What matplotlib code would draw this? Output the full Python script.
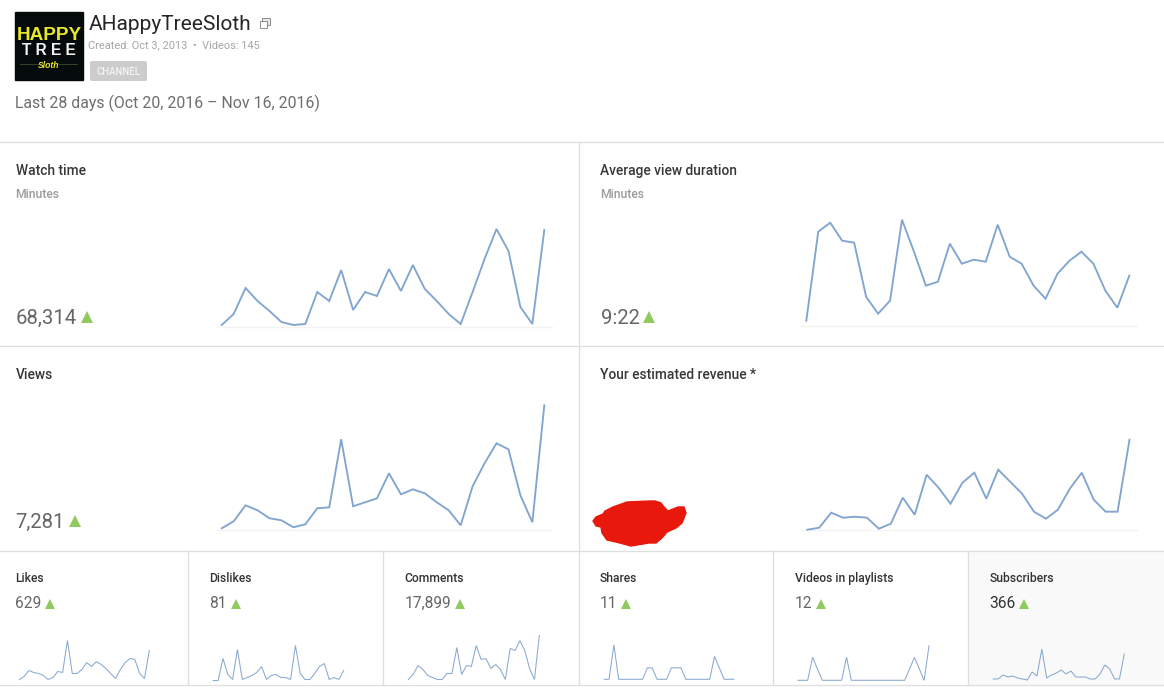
import matplotlib
matplotlib.use("Agg")
import matplotlib.pyplot as plt
from matplotlib.patches import FancyBboxPatch, Polygon, Rectangle

W, H = 1164, 695
plt.rcParams["font.family"] = ["Roboto", "DejaVu Sans"]

# heights of the big sparklines
watch_time = [1, 12, 38, 25, 15, 4, 1, 2, 34, 25, 56, 16, 34, 30, 57, 35, 61, 37, 25, 12, 2, 34, 67, 97, 75, 19, 2, 96]
avg_duration = [5, 94, 103, 85, 83, 29, 12, 25, 106, 74, 40, 44, 82, 62, 66, 64, 101, 69, 62, 40, 27, 52, 65, 74, 62, 35, 18, 50]
views = [1, 8, 24, 19, 11, 9, 2, 5, 21, 22, 90, 23, 27, 31, 56, 35, 40, 36, 27, 19, 4, 43, 66, 86, 80, 34, 7, 124]
revenue = [0, 2, 17, 12, 13, 12, 1, 6, 32, 15, 55, 42, 26, 47, 57, 31, 60, 48, 36, 18, 11, 20, 41, 57, 30, 18, 18, 90]

# small sparklines
likes = [1, 4, 10, 8, 7, 5, 1, 3, 9, 8, 40, 7, 7, 11, 18, 14, 19, 16, 12, 7, 2, 11, 18, 22, 21, 7, 2, 30]
dislikes = [0, 0, 22, 6, 1, 31, 1, 3, 5, 8, 14, 1, 5, 6, 3, 3, 1, 35, 7, 1, 1, 7, 14, 17, 1, 3, 1, 10]
comments = [1, 6, 15, 11, 5, 3, 1, 1, 7, 7, 33, 6, 15, 14, 35, 21, 22, 12, 16, 11, 1, 32, 30, 40, 30, 12, 1, 45]
shares = [0, 0, 3, 0, 0, 0, 0, 0, 0, 1, 1, 0, 0, 0, 1, 1, 1, 0, 0, 0, 0, 0, 0, 2, 1, 0, 0, 0]
playlists = [0, 0, 0, 2, 1, 0, 0, 0, 0, 0, 2, 0, 0, 0, 0, 0, 0, 0, 0, 0, 0, 0, 0, 1, 2, 1, 0, 3]
subscribers = [1, 1, 5, 3, 4, 2, 1, 0, 8, 4, 31, 2, 5, 7, 10, 6, 9, 3, 3, 3, 1, 1, 6, 15, 11, 1, 1, 26]

big_titles = ["Watch time", "Average view duration", "Views", "Your estimated revenue *"]
big_totals = ["68,314", "9:22", "7,281", None]
small_titles = ["Likes", "Dislikes", "Comments", "Shares", "Videos in playlists", "Subscribers"]
small_totals = ["629", "81", "17,899", "11", "12", "366"]

LINE = "#82a5d0"
LINE_SMALL = "#8aa9cf"
GRID = "#dedede"
GREEN = "#8fca5e"


def spark(fig, values, x0, x1, base, top, ymax, color, lw):
    '''inset axes placed in pixels, x runs over the 28 days'''
    ax = fig.add_axes([x0 / W, 1 - base / H, (x1 - x0) / W, (base - top) / H])
    ax.plot(range(len(values)), values, color=color, lw=lw, solid_joinstyle="miter", clip_on=False)
    ax.set_xlim(0, len(values) - 1)
    ax.set_ylim(0, ymax)
    ax.axis("off")
    return ax


fig = plt.figure(figsize=(W / 100, H / 100), dpi=100, facecolor="white")
bg = fig.add_axes([0, 0, 1, 1])
bg.set_xlim(0, W)
bg.set_ylim(H, 0)
bg.axis("off")

# header
bg.add_patch(Rectangle((15, 12), 68, 68, color="#050a0a"))
bg.text(49, 35.5, "HAPPY", color="#e8e82a", fontsize=13.6, fontweight="bold", ha="center", va="center",
        family="Liberation Sans")
bg.text(49, 50.5, "T R E E", color="#f1f1f1", fontsize=11.2, fontweight="bold", ha="center", va="center",
        family="Liberation Sans")
bg.text(49, 65, "Sloth", color="#e8e82a", fontsize=6.2, fontweight="bold", style="italic", ha="center", va="center",
        family="Liberation Sans")
bg.plot([20, 38], [64, 64], color="#4a5a2a", lw=0.5)
bg.plot([59, 77], [64, 64], color="#4a5a2a", lw=0.5)
bg.text(89, 24.5, "AHappyTreeSloth", color="#262626", fontsize=15, va="center")
bg.add_patch(Rectangle((262, 18), 8, 7, fc="#e8e8e8", ec="#8c8c8c", lw=0.7))
bg.add_patch(Rectangle((260, 21), 7, 6.5, fc="white", ec="#8c8c8c", lw=0.7))
bg.text(88.5, 45, "Created: Oct 3, 2013  \u2022  Videos: 145", color="#a5a5a5", fontsize=7.9, va="center")
bg.add_patch(FancyBboxPatch((92, 63), 53, 16, boxstyle="round,pad=2,rounding_size=2", fc="#cccccc", ec="none"))
bg.text(118.5, 72, "CHANNEL", color="#f4f4f4", fontsize=6.9, fontweight="medium", ha="center", va="center")
bg.text(15, 103.5, "Last 28 days (Oct 20, 2016 \u2013 Nov 16, 2016)", color="#6e6e6e", fontsize=11.45, va="center")

# subscribers tile is shaded
bg.add_patch(Rectangle((968, 551), W - 968, 134, color="#f9f9f9"))

# panel dividers
for y in [142, 346, 551, 685]:
    bg.plot([0, W], [y, y], color=GRID, lw=0.9)
bg.plot([579, 579], [142, 685], color=GRID, lw=0.9)
for x in [188, 383, 773, 968]:
    bg.plot([x, x], [551, 685], color=GRID, lw=0.9)

# big panels
big_series = [watch_time, avg_duration, views, revenue]
big_x = [(221.7, 544.3), (806.3, 1129.3), (221.7, 544.3), (807.3, 1129.5)]
big_base = [326, 325.7, 529.3, 529.7]
big_text_x = [15.5, 600.5, 15.5, 600.5]
big_top = [175, 175, 379, 379]
for i, vals in enumerate(big_series):
    x0, x1 = big_x[i]
    base = big_base[i]
    bg.plot([x0 - 5, x1 + 7.5], [base + 0.5, base + 0.5], color="#f3f3f3", lw=1)
    spark(fig, vals, x0, x1, base, base - 130, 130, LINE, 1.35)
    bg.text(big_text_x[i], big_top[i], big_titles[i], color="#383838", fontsize=9.9, fontweight="medium", va="baseline")
    if i < 2:
        bg.text(big_text_x[i], big_top[i] + 23, "Minutes", color="#9b9b9b", fontsize=8.7, fontweight="medium", va="baseline")
    if big_totals[i]:
        t = bg.text(big_text_x[i], big_top[i] + 149, big_totals[i], color="#666666", fontsize=14.6, va="baseline")
        end = t.get_window_extent(fig.canvas.get_renderer()).x1
        bg.plot(end + 10, big_top[i] + 142, marker="^", ms=8.5, color=GREEN, mew=0)

# small panels
small_series = [likes, dislikes, comments, shares, playlists, subscribers]
small_x = [(19.3, 149.3), (213.3, 343.7), (408.3, 539.3), (604.3, 733.7), (798, 929), (993.3, 1124.3)]
small_base = [680.5, 680.5, 680.5, 679.3, 680.3, 680]
small_ymax = [60, 60, 60, 60 / 11.5, 60 / 11.5, 60]
small_text_x = [15.5, 209.5, 404.5, 600, 795, 989.5]
for i, vals in enumerate(small_series):
    x0, x1 = small_x[i]
    base = small_base[i]
    spark(fig, vals, x0, x1, base, base - 60, small_ymax[i], LINE_SMALL, 0.75)
    bg.text(small_text_x[i], 582, small_titles[i], color="#333333", fontsize=8.7, fontweight="medium", va="baseline")
    color = "#333333" if i == 5 else "#666666"
    t = bg.text(small_text_x[i], 603.5, small_totals[i], color=color, fontsize=11.2, va="center")
    end = t.get_window_extent(fig.canvas.get_renderer()).x1
    bg.plot(end + 8.5, 603.5, marker="^", ms=7, color=GREEN, mew=0)

# red scribble over the revenue total
blob_x = [593, 596, 603, 605, 613, 627, 649, 655, 661, 664, 668, 678, 684, 686, 682, 676, 667, 662, 656, 649, 631, 616, 607, 602, 601, 596]
blob_y = [521, 517, 514, 511, 507, 502, 501, 501, 503, 507, 511, 507, 507, 513, 523, 528, 532, 538, 543, 543, 546, 542, 540, 533, 527, 526]
bg.add_patch(Polygon(list(zip(blob_x, blob_y)), closed=True, fc="#e8190c", ec="#e8190c", lw=1, joinstyle="round", zorder=5))

fig.savefig("out.png", dpi=100)
